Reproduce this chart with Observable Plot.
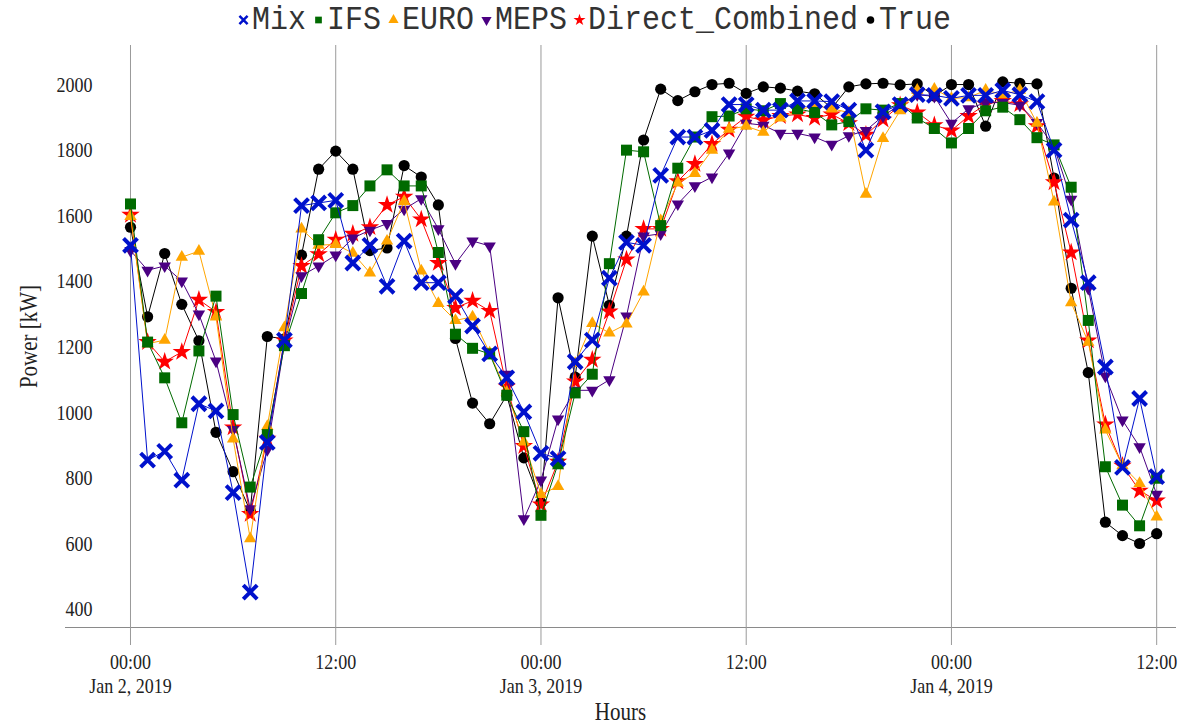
<!DOCTYPE html>
<html><head><meta charset="utf-8">
<script src="https://cdn.jsdelivr.net/npm/d3@7"></script>
<script src="https://cdn.jsdelivr.net/npm/@observablehq/plot@0.6"></script>
<style>
html,body{margin:0;padding:0;background:#fff;}
#wrap{width:1178px;height:725px;position:relative;overflow:hidden;}
#legend{height:40px;display:flex;justify-content:center;align-items:center;font-family:"Liberation Mono","Courier New",monospace;font-size:30px;color:#333;padding-left:10px;box-sizing:border-box;}
.item{display:flex;align-items:center;margin:0 3px;}
.item svg{margin-right:2px;}
.item span{display:inline-block;transform:scaleY(1.12);}
</style></head><body><div id="wrap"><div id="legend"></div><div id="chart"></div></div>
<script>
// hourly values, Jan 2 2019 00:00 .. Jan 4 2019 12:00 (61 points)
const mix = [1510,855,882,794,1027,1005,756,453,909,1221,1631,1639,1647,1456,1510,1385,1523,1396,1396,1355,1264,1179,1106,1002,876,860,1155,1221,1410,1519,1510,1723,1840,1840,1860,1939,1939,1922,1922,1950,1950,1948,1922,1800,1917,1939,1969,1967,1958,1967,1967,1982,1969,1948,1800,1587,1396,1139,833,1043,805];
const ifs = [1636,1215,1106,969,1188,1355,994,773,933,1204,1363,1527,1609,1631,1691,1740,1691,1691,1488,1239,1196,1179,1053,942,687,844,1060,1117,1454,1800,1795,1570,1745,1840,1902,1904,1926,1920,1942,1926,1915,1877,1887,1926,1922,1942,1898,1866,1822,1866,1920,1931,1893,1838,1816,1687,1281,835,718,655,800];
const euro = [1598,1210,1221,1474,1492,1292,920,616,958,1259,1560,1510,1513,1486,1426,1523,1644,1432,1333,1281,1292,1182,1062,911,751,775,1150,1272,1243,1270,1368,1585,1700,1729,1800,1864,1873,1855,1898,1920,1937,1926,1915,1666,1836,1920,1983,1986,1958,1960,1983,1969,1983,1882,1642,1335,1215,947,838,784,682];
const meps = [1494,1434,1447,1401,1300,1157,948,707,887,1210,1417,1447,1480,1532,1556,1576,1620,1652,1560,1454,1523,1508,1117,676,794,980,1068,1068,1100,1294,1538,1545,1636,1691,1718,1791,1882,1876,1851,1851,1840,1818,1844,1860,1904,1939,1969,1964,1882,1926,1945,1945,1937,1884,1811,1650,1379,1111,977,896,751];
const direct = [1603,1215,1155,1185,1344,1307,955,691,920,1220,1447,1483,1527,1545,1565,1633,1658,1589,1456,1319,1341,1310,1079,898,720,850,1095,1161,1308,1467,1560,1560,1705,1758,1819,1862,1902,1891,1904,1909,1898,1909,1882,1847,1893,1937,1915,1876,1860,1904,1940,1950,1940,1873,1702,1488,1220,964,838,762,732];
const truth = [1565,1292,1485,1330,1219,940,820,700,1232,1225,1480,1742,1797,1742,1494,1502,1753,1718,1633,1226,1029,966,1053,862,726,1350,1108,1538,1327,1538,1831,1986,1951,1978,2000,2004,1973,1993,1989,1980,1972,1928,1993,2002,2004,1999,2002,1965,2000,2000,1873,2008,2004,2002,1715,1379,1122,666,625,601,631];

const seriesNames = ["Mix","IFS","EURO","MEPS","Direct_Combined","True"];
const seriesValues = [mix, ifs, euro, meps, direct, truth];
const xTickHours = [0,12,24,36,48,60];
const xTickLabels = ["00:00\nJan 2, 2019","12:00","00:00\nJan 3, 2019","12:00","00:00\nJan 4, 2019","12:00"];
const yTicks = [400,600,800,1000,1200,1400,1600,1800,2000];

const colors = ["#0011cc","#006a00","#ffa500","#4b0082","#ff0000","#000000"];
const symbols = ["times","square","triangle","triangle","star","circle"];
const rotates = [0,0,0,180,0,0];
const radii = [6.4,6.2,4.6,4.6,5.8,5.6];

const t0 = Date.UTC(2019,0,2);
const toDate = h => new Date(t0 + h*3600e3);
const data = seriesNames.flatMap((name,i)=>seriesValues[i].map((v,h)=>({name, time: toDate(h), value: v})));
const xTicks = xTickHours.map(toDate);

const marks = [
  Plot.gridX(xTicks, {stroke:"#9a9a9a", strokeOpacity:1, strokeWidth:1}),
  Plot.frame({anchor:"bottom", stroke:"#8a8a8a"}),
  Plot.axisX(xTicks, {tickSize:18, tickPadding:7, stroke:"#9a9a9a", fontSize:18, lineHeight:1.08, fill:"#222",
    tickFormat: d => xTickLabels[xTickHours.indexOf(Math.round((d - t0)/3600e3))],
    label:"Hours", labelAnchor:"center", labelArrow:"none", labelOffset:92}),
  Plot.axisY(yTicks, {tickSize:0, dx:36, fontSize:18, fill:"#222", tickFormat: d => String(d),
    label:"Power [kW]", labelAnchor:"center", labelArrow:"none", labelOffset:46})
];
for (let i = seriesNames.length - 1; i >= 0; i--) {
  const d = data.filter(r => r.name === seriesNames[i]);
  marks.push(Plot.line(d, {x:"time", y:"value", stroke:colors[i], strokeWidth:1}));
  if (symbols[i] === "times") {
    marks.push(Plot.dot(d, {x:"time", y:"value", symbol:"times", stroke:colors[i], strokeWidth:4, r:radii[i]}));
  } else {
    marks.push(Plot.dot(d, {x:"time", y:"value", symbol:symbols[i], fill:colors[i], stroke:"none", r:radii[i], rotate:rotates[i]}));
  }
}

const chart = Plot.plot({
  width:1178, height:685,
  marginTop:5, marginBottom:98, marginLeft:65, marginRight:3,
  style:{fontFamily:"'Liberation Serif','Times New Roman',serif", background:"#fff", color:"#222"},
  x:{type:"utc", domain:[toDate(-3.8), toDate(61.1)]},
  y:{domain:[345, 2119]},
  marks
});
document.getElementById("chart").appendChild(chart);

// vertically stretched lettering like the reference
chart.querySelectorAll('g[aria-label$="tick label"] text').forEach(t => {
  const tr = t.getAttribute("transform") || "";
  t.setAttribute("transform", tr + " scale(1,1.22)");
});
chart.querySelectorAll('g[aria-label$="axis label"] text').forEach(t => {
  const tr = t.getAttribute("transform") || "";
  t.setAttribute("font-size", 21);
  t.setAttribute("transform", tr + " scale(1,1.2)");
});

// legend
const legend = document.getElementById("legend");
const symMap = {times:d3.symbolTimes, square:d3.symbolSquare, triangle:d3.symbolTriangle, star:d3.symbolStar, circle:d3.symbolCircle};
seriesNames.forEach((name,i)=>{
  const item = document.createElement("div"); item.className = "item";
  const s = d3.create("svg").attr("width",13).attr("height",14);
  const p = s.append("path").attr("d", d3.symbol(symMap[symbols[i]], 45)()).attr("transform", `translate(6.5,7) rotate(${rotates[i]})`);
  if (symbols[i]==="times") p.attr("fill","none").attr("stroke",colors[i]).attr("stroke-width",2.5);
  else p.attr("fill",colors[i]);
  item.appendChild(s.node());
  const sp = document.createElement("span"); sp.textContent = name; item.appendChild(sp);
  legend.appendChild(item);
});
</script></body></html>
